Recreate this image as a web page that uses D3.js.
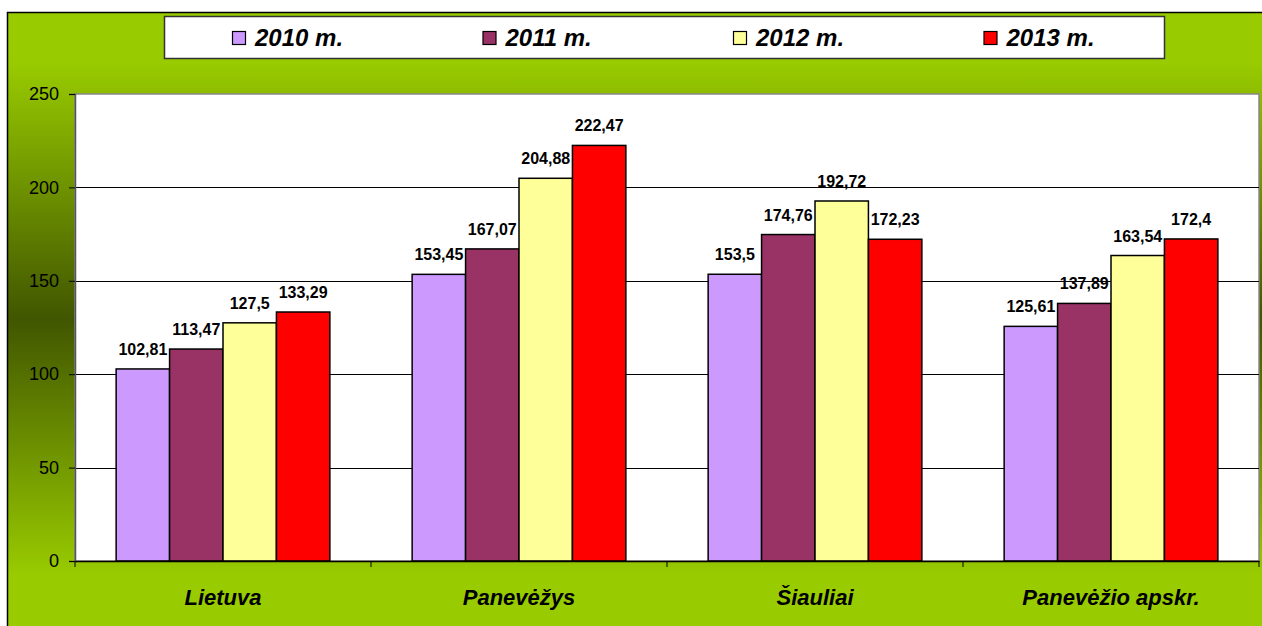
<!DOCTYPE html>
<html>
<head>
<meta charset="utf-8">
<script src="https://cdn.jsdelivr.net/npm/d3@7"></script>
<style>
  body { margin: 0; background: #fff; }
  svg { display: block; font-family: Arial, "Liberation Sans", sans-serif; }
</style>
</head>
<body>
<div id="chart"></div>
<script>
// data
const categories = ['Lietuva', 'Panevėžys', 'Šiauliai', 'Panevėžio apskr.'];
const years = ['2010 m.', '2011 m.', '2012 m.', '2013 m.'];
const v2010 = [102.81, 153.45, 153.5, 125.61];
const v2011 = [113.47, 167.07, 174.76, 137.89];
const v2012 = [127.5, 204.88, 192.72, 163.54];
const v2013 = [133.29, 222.47, 172.23, 172.4];
const yTicks = [0, 50, 100, 150, 200, 250];
const colors = ['#CC99FF', '#993366', '#FFFF99', '#FF0000'];

const seriesVals = [v2010, v2011, v2012, v2013];

function main() {
    const W = 1262, H = 626;
    const svg = d3.select('#chart')
        .append('svg')
        .attr('width', W)
        .attr('height', H);

    // background gradient
    const defs = svg.append('defs');
    const grad = defs.append('linearGradient')
        .attr('id', 'bg')
        .attr('gradientUnits', 'userSpaceOnUse')
        .attr('x1', 0).attr('y1', 12).attr('x2', 0).attr('y2', 626);
    grad.append('stop').attr('offset', '0%').attr('stop-color', '#99cc00');
    grad.append('stop').attr('offset', '8%').attr('stop-color', '#99cc00');
    grad.append('stop').attr('offset', '50%').attr('stop-color', '#415600');
    grad.append('stop').attr('offset', '92%').attr('stop-color', '#99cc00');
    grad.append('stop').attr('offset', '100%').attr('stop-color', '#99cc00');

    svg.append('rect')
        .attr('x', 7.5).attr('y', 12.5)
        .attr('width', W).attr('height', H)
        .attr('fill', 'url(#bg)')
        .attr('stroke', '#000')
        .attr('stroke-width', 1.5);

    const left = 75, right = 1259, top = 94, bottom = 561;

    const x = d3.scaleBand().domain(categories).range([left, right]);
    const xi = d3.scaleBand().domain(years).range([0, x.bandwidth()]).paddingOuter(0.77);
    const y = d3.scaleLinear().domain([0, 250]).range([bottom, top]);

    // plot area
    svg.append('rect')
        .attr('x', left).attr('y', top)
        .attr('width', right - left).attr('height', bottom - top)
        .attr('fill', '#fff')
        .attr('stroke', '#888')
        .attr('stroke-width', 1.5);

    // gridlines
    svg.append('g')
        .selectAll('line')
        .data(yTicks.filter(d => d > 0 && d < 250))
        .enter()
        .append('line')
        .attr('x1', left).attr('x2', right)
        .attr('y1', d => Math.round(y(d)) + 0.5)
        .attr('y2', d => Math.round(y(d)) + 0.5)
        .attr('stroke', '#000')
        .attr('stroke-width', 1);

    // bars
    const groups = svg.append('g')
        .selectAll('g')
        .data(categories)
        .enter()
        .append('g')
        .attr('transform', d => `translate(${x(d)},0)`);

    groups.selectAll('rect')
        .data((d, ci) => years.map((yr, si) => ({ yr, si, v: seriesVals[si][ci] })))
        .enter()
        .append('rect')
        .attr('x', d => xi(d.yr))
        .attr('y', d => y(d.v))
        .attr('width', xi.bandwidth())
        .attr('height', d => bottom - y(d.v))
        .attr('fill', d => colors[d.si])
        .attr('stroke', '#000')
        .attr('stroke-width', 1.5);

    groups.selectAll('text')
        .data((d, ci) => years.map((yr, si) => ({ yr, si, v: seriesVals[si][ci] })))
        .enter()
        .append('text')
        .text(d => String(d.v).replace('.', ','))
        .attr('x', d => xi(d.yr) + xi.bandwidth() / 2)
        .attr('y', d => y(d.v) - 14)
        .attr('text-anchor', 'middle')
        .attr('font-size', 16)
        .attr('font-weight', 'bold')
        .attr('fill', '#000');

    // y axis
    const yAxis = svg.append('g')
        .attr('transform', `translate(${left},0)`)
        .call(d3.axisLeft(y).tickValues(yTicks).tickSize(6).tickPadding(10).tickFormat(d3.format('d')));
    yAxis.select('.domain').attr('stroke', '#555').attr('stroke-width', 1.5);
    yAxis.selectAll('.tick line').attr('stroke', '#000');
    yAxis.selectAll('text').attr('font-size', 18).attr('font-family', 'Arial, "Liberation Sans", sans-serif').attr('fill', '#000');

    // x axis
    const xAxis = svg.append('g')
        .attr('transform', `translate(0,${bottom})`)
        .call(d3.axisBottom(x).tickSize(0).tickFormat(''));
    xAxis.select('.domain').attr('stroke', '#000').attr('stroke-width', 1.5);
    xAxis.selectAll('line.sep')
        .data(d3.range(categories.length + 1))
        .enter()
        .append('line')
        .attr('class', 'sep')
        .attr('x1', i => i < categories.length ? x(categories[i]) : right)
        .attr('x2', i => i < categories.length ? x(categories[i]) : right)
        .attr('y1', 0).attr('y2', 6)
        .attr('stroke', '#000');

    svg.append('g')
        .selectAll('text')
        .data(categories)
        .enter()
        .append('text')
        .text(d => d)
        .attr('x', d => x(d) + x.bandwidth() / 2)
        .attr('y', 605)
        .attr('text-anchor', 'middle')
        .attr('font-size', 22)
        .attr('font-weight', 'bold')
        .attr('font-style', 'italic')
        .attr('fill', '#000');

    // legend
    const lg = svg.append('g');
    lg.append('rect')
        .attr('x', 164.5).attr('y', 16.5)
        .attr('width', 1000).attr('height', 42)
        .attr('fill', '#fff')
        .attr('stroke', '#333')
        .attr('stroke-width', 1.5);
    const items = lg.selectAll('g')
        .data(years)
        .enter()
        .append('g')
        .attr('transform', (d, i) => `translate(${232 + i * 250.5},0)`);
    items.append('rect')
        .attr('x', 0.5).attr('y', 31.5)
        .attr('width', 13).attr('height', 13)
        .attr('fill', (d, i) => colors[i])
        .attr('stroke', '#000')
        .attr('stroke-width', 1.2);
    items.append('text')
        .text(d => d)
        .attr('x', 23)
        .attr('y', 46)
        .attr('font-size', 24)
        .attr('font-weight', 'bold')
        .attr('font-style', 'italic')
        .attr('fill', '#000');
}

main();
</script>
</body>
</html>
